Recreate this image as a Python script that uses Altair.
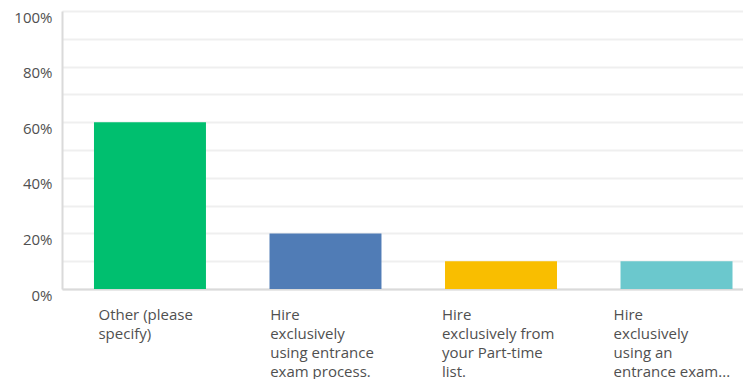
import altair as alt
import pandas as pd

categories = [
    "Other (please\nspecify)",
    "Hire\nexclusively\nusing entrance\nexam process.",
    "Hire\nexclusively from\nyour Part-time\nlist.",
    "Hire\nexclusively\nusing an\nentrance exam...",
]
values = [0.60, 0.20, 0.10, 0.10]
colors = ["#00BF6F", "#507CB6", "#F9BE00", "#6BC8CD"]
y_ticks = [0.0, 0.1, 0.2, 0.3, 0.4, 0.5, 0.6, 0.7, 0.8, 0.9, 1.0]

df = pd.DataFrame({"cat": categories, "val": values, "color": colors})

chart = (
    alt.Chart(df)
    .mark_bar()
    .encode(
        x=alt.X(
            "cat:N",
            sort=categories,
            title=None,
            scale=alt.Scale(paddingInner=0.362, paddingOuter=0.121, align=0.753),
            axis=alt.Axis(
                labelAngle=0,
                labelAlign="left",
                labelBaseline="top",
                labelOffset={"expr": "-51.5 - 11.4*datum.index"},
                labelPadding=18,
                labelLineHeight=19,
                labelFontSize=15,
                labelFont="Open Sans",
                labelColor="#505050",
                labelExpr="split(datum.label, '\\n')",
                ticks=False,
                domainColor="#DADADA",
                domainWidth=2,
                grid=False,
            ),
        ),
        y=alt.Y(
            "val:Q",
            title=None,
            scale=alt.Scale(domain=[0, 1], nice=False),
            axis=alt.Axis(
                values=y_ticks,
                format=".0%",
                labelExpr="round(datum.value*100) % 20 == 0 ? datum.label : ''",
                labelFontSize=15,
                labelFont="Open Sans",
                labelColor="#505050",
                labelOffset=6,
                labelPadding=10,
                ticks=False,
                domainColor="#DADADA",
                domainWidth=2,
                gridColor="#EFEFEF",
                gridWidth=2,
            ),
        ),
        color=alt.Color("color:N", scale=None),
    )
    .properties(
        width=681,
        height=278,
        autosize=alt.AutoSizeParams(type="none"),
        padding={"left": 54, "top": 3, "right": 0, "bottom": 90},
    )
    .configure_view(stroke=None)
)

chart.save("out.html", embed_options={"renderer": "svg", "actions": False})
